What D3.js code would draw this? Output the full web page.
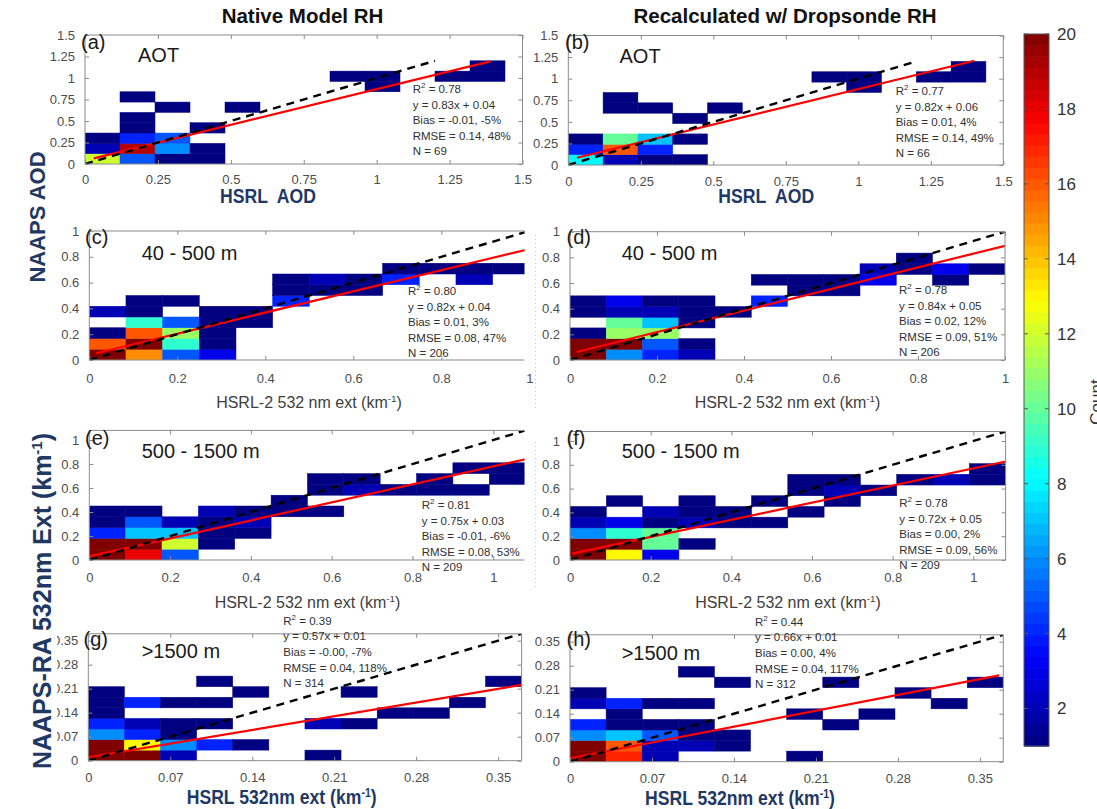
<!DOCTYPE html>
<html>
<head>
<meta charset="utf-8">
<script src="https://cdn.jsdelivr.net/npm/d3@7"></script>
<style>
  html, body { margin: 0; padding: 0; background: #fff; }
  svg { display: block; font-family: "Liberation Sans", Arial, Helvetica, sans-serif; }
</style>
</head>
<body>
<svg id="fig" width="1097" height="809"></svg>
<script>
// ---------------- data ----------------
// 2-D histogram cells: [x-bin index, y-bin index, count]
const cellsA = [[0,0,12],[1,0,5],[2,0,1],[3,0,1],[0,1,2],[1,1,19],[2,1,6],[3,1,1],[0,2,1],[1,2,4],[2,2,5],
  [1,3,1],[3,3,1],[1,4,1],[2,5,1],[4,5,1],[1,6,1],[8,7,1],[7,8,1],[8,8,1],[10,8,1],[11,8,1],[11,9,1]];
const cellsB = [[0,0,8],[1,0,2],[2,0,1],[3,0,1],[0,1,4],[1,1,16],[2,1,4],[0,2,1],[1,2,10],[2,2,7],[3,2,1],
  [3,4,1],[1,5,1],[2,5,1],[4,5,1],[1,6,1],[8,7,1],[7,8,1],[8,8,1],[10,8,1],[11,8,1],[11,9,1]];
const cellsC = [[0,0,44],[0,1,16],[0,2,1],[0,4,2],[1,0,15],[1,1,40],[1,2,16],[1,3,9],[1,4,1],[1,5,1],
  [2,0,5],[2,1,9],[2,2,11],[2,3,5],[2,5,1],[3,0,3],[3,1,1],[3,2,1],[3,3,1],[3,4,1],[4,3,1],[4,4,1],
  [5,5,4],[5,6,1],[5,7,1],[6,6,1],[6,7,2],[7,6,1],[7,7,1],[8,7,4],[8,8,1],[9,8,1],[10,7,2],[10,8,1],[11,8,1]];
const cellsD = [[0,0,45],[0,1,38],[0,2,1],[0,4,1],[0,5,1],[1,0,6],[1,1,30],[1,2,11],[1,3,10],[1,4,2],[1,5,3],
  [2,0,4],[2,1,5],[2,2,11],[2,3,7],[2,4,2],[2,5,1],[3,0,2],[3,1,1],[3,3,1],[3,4,1],[3,5,1],[4,4,1],
  [5,5,4],[5,7,1],[6,6,1],[6,7,1],[7,6,1],[7,7,1],[8,7,3],[8,8,2],[9,8,1],[9,9,1],[10,7,1],[10,8,3],[11,8,1]];
const cellsE = [[0,0,50],[0,1,42],[0,2,4],[0,3,1],[0,4,1],[1,0,18],[1,1,30],[1,2,7],[1,3,5],[1,4,1],
  [2,0,5],[2,1,12],[2,2,7],[2,3,2],[3,1,1],[3,2,1],[3,3,1],[3,4,2],[4,2,1],[4,3,2],[4,4,1],[5,4,1],[5,5,1],
  [6,4,1],[6,6,1],[6,7,1],[7,6,2],[7,7,1],[8,6,1],[9,6,1],[9,7,1],[10,6,1],[10,8,1],[11,7,1],[11,8,1]];
const cellsF = [[0,0,52],[0,1,40],[0,2,6],[0,3,2],[0,4,1],[1,0,13],[1,1,34],[1,2,9],[1,3,3],[1,5,1],
  [2,0,3],[2,1,10],[2,2,10],[2,3,1],[2,4,2],[3,1,1],[3,3,2],[3,4,1],[3,5,1],[4,3,1],[4,4,1],[5,3,1],[5,5,1],
  [6,4,1],[6,6,1],[6,7,1],[7,5,1],[7,6,2],[7,7,1],[8,6,1],[9,7,1],[10,7,2],[11,7,1],[11,8,1]];
const cellsG = [[0,0,120],[0,1,64],[0,2,6],[0,3,4],[0,4,1],[0,5,1],[0,6,1],[1,0,65],[1,1,13],[1,2,4],[1,3,2],[1,5,4],
  [2,0,2],[2,1,6],[2,2,1],[2,3,1],[2,5,1],[3,1,4],[3,3,1],[3,5,1],[3,7,1],[4,1,1],[4,6,1],
  [6,0,1],[6,3,2],[7,3,1],[7,6,1],[8,4,1],[9,4,1],[10,5,1],[11,7,1]];
const cellsH = [[0,0,140],[0,1,85],[0,2,6],[0,3,4],[0,5,2],[0,6,1],[1,0,17],[1,1,16],[1,2,7],[1,3,1],[1,4,1],[1,5,4],
  [2,0,2],[2,1,2],[2,2,5],[2,3,1],[2,5,1],[3,1,2],[3,2,1],[3,3,1],[3,5,1],[3,8,1],[4,1,1],[4,2,1],[4,7,1],
  [6,0,1],[6,4,1],[7,3,1],[7,7,1],[8,4,1],[9,6,1],[10,5,1],[11,7,1]];
const panelCells = [cellsA, cellsB, cellsC, cellsD, cellsE, cellsF, cellsG, cellsH];

// bin width and axis upper limit of each panel (same for x and y)
const binWidth = [0.12, 0.12, 1/12, 1/12, 0.09, 0.09, 0.37/12, 0.37/12];
const axisMax  = [1.5, 1.5, 1, 1, 1.08, 1.08, 0.37, 0.37];

// least-squares fits and 1:1 reference
const fitSlope     = [0.83, 0.82, 0.82, 0.84, 0.75, 0.72, 0.57, 0.66];
const fitIntercept = [0.04, 0.06, 0.04, 0.05, 0.03, 0.05, 0.01, 0.01];
const fitXStart    = [0.03, 0.03, 0.015, 0.015, 0, 0.005, 0, 0];
const fitXEnd      = [1.39, 1.40, 1, 1, 1.08, 1.08, 0.37, 0.3665];
const oneToOneEnd  = [1.2, 1.2, 1, 1, 1.08, 1.08, 0.37, 0.37];

// statistics
const r2Values   = ["0.78", "0.77", "0.80", "0.78", "0.81", "0.78", "0.39", "0.44"];
const biasText   = ["-0.01, -5%", "0.01, 4%", "0.01, 3%", "0.02, 12%", "-0.01, -6%", "0.00, 2%", "-0.00, -7%", "0.00, 4%"];
const rmseText   = ["0.14, 48%", "0.14, 49%", "0.08, 47%", "0.09, 51%", "0.08, 53%", "0.09, 56%", "0.04, 118%", "0.04, 117%"];
const sampleSize = [69, 66, 206, 206, 209, 209, 314, 312];

// labels and ticks
const panelTags  = ["(a)", "(b)", "(c)", "(d)", "(e)", "(f)", "(g)", "(h)"];
const layerNames = ["AOT", "AOT", "40 - 500 m", "40 - 500 m", "500 - 1500 m", "500 - 1500 m", ">1500 m", ">1500 m"];
const aodTicks   = [0, 0.25, 0.5, 0.75, 1, 1.25, 1.5];
const extTicks   = [0, 0.2, 0.4, 0.6, 0.8, 1];
const highTicks  = [0, 0.07, 0.14, 0.21, 0.28, 0.35];
const panelTicks = [aodTicks, aodTicks, extTicks, extTicks, extTicks, extTicks, highTicks, highTicks];
const countTicks = [2, 4, 6, 8, 10, 12, 14, 16, 18, 20];
const countRange = [1, 20];
const columnTitles = ["Native Model RH", "Recalculated w/ Dropsonde RH"];

// ---------------- layout ----------------
const frames = [
  {x0: 85,   x1: 522.5,  y0: 164,   y1: 35,    pad: 10.5, tag: [81, 48.5],    layer: [138, 61.5],  stats: [412.7, 93]},
  {x0: 568.3,x1: 1003.3, y0: 165,   y1: 35.5,  pad: 11.5, tag: [565, 48.5],   layer: [619.5, 62.5],stats: [895.7, 95]},
  {x0: 89.3, x1: 529.3,  y0: 360,   y1: 231,   pad: 13.5, tag: [85, 244],     layer: [141.7, 260], stats: [408, 295],   clipX: 524.5},
  {x0: 570,  x1: 1005,   y0: 360,   y1: 231.7, pad: 13.5, tag: [566.5, 244],  layer: [621.7, 260], stats: [899, 294]},
  {x0: 89.3, x1: 525.6,  y0: 560,   y1: 430.4, pad: 12.5, tag: [85, 445],     layer: [141.7, 458], stats: [421.7, 509], clipX: 524.5},
  {x0: 570,  x1: 1005.6, y0: 560,   y1: 431.5, pad: 12.5, tag: [566.5, 445],  layer: [621.7, 458], stats: [899.3, 507]},
  {x0: 88.3, x1: 521.6,  y0: 760.7, y1: 633.8, pad: 12,   tag: [83.5, 646],   layer: [141.7, 658], stats: [283.3, 624.7]},
  {x0: 570,  x1: 1003.3, y0: 761.7, y1: 634.8, pad: 12,   tag: [566.5, 646],  layer: [621.7, 660], stats: [755, 625.7]}
];

const svg = d3.select("#fig");
const defs = svg.append("defs");

// MATLAB-style jet colormap
function jet(t) {
  const c = v => Math.max(0, Math.min(1, v));
  return d3.rgb(255 * c(1.5 - Math.abs(4 * t - 3)),
                255 * c(1.5 - Math.abs(4 * t - 2)),
                255 * c(1.5 - Math.abs(4 * t - 1))).formatHex();
}
const color = d3.scaleSequential(jet).domain(countRange).clamp(true);

const AXIS_GREY = "#8a8a8a";
const TICK_TEXT = "#4d4d4d";

function kmLabel(sel) {
  sel.append("tspan").text(sel.attr("data-base"));
  sel.append("tspan").attr("dy", -6).attr("font-size", "0.62em").text("-1");
  sel.append("tspan").attr("dy", 6).text(")");
}

frames.forEach((f, p) => {
  const x = d3.scaleLinear().domain([0, axisMax[p]]).range([f.x0, f.x1]);
  const y = d3.scaleLinear().domain([0, axisMax[p]]).range([f.y0, f.y1]);
  const bw = binWidth[p];
  const g = svg.append("g").attr("class", "panel-" + p);

  const clipRight = f.clipX || f.x1;
  defs.append("clipPath").attr("id", "clip" + p)
    .append("rect").attr("x", f.x0).attr("y", f.y1)
    .attr("width", clipRight - f.x0).attr("height", f.y0 - f.y1);

  const plot = g.append("g").attr("clip-path", `url(#clip${p})`);

  // histogram cells
  plot.selectAll("rect.cell").data(panelCells[p]).join("rect")
    .attr("class", "cell")
    .attr("x", d => x(d[0] * bw))
    .attr("y", d => y((d[1] + 1) * bw))
    .attr("width", d => x((d[0] + 1) * bw) - x(d[0] * bw))
    .attr("height", d => y(d[1] * bw) - y((d[1] + 1) * bw))
    .attr("fill", d => color(d[2]))
    .attr("stroke", d => color(d[2]))
    .attr("stroke-width", 0.5);

  // regression line
  const fx = [fitXStart[p], fitXEnd[p]];
  plot.append("line")
    .attr("x1", x(fx[0])).attr("y1", y(fitSlope[p] * fx[0] + fitIntercept[p]))
    .attr("x2", x(fx[1])).attr("y2", y(fitSlope[p] * fx[1] + fitIntercept[p]))
    .attr("stroke", "#ff0000").attr("stroke-width", 2.2);

  // 1:1 line
  plot.append("line")
    .attr("x1", x(0)).attr("y1", y(0))
    .attr("x2", x(oneToOneEnd[p])).attr("y2", y(oneToOneEnd[p]))
    .attr("stroke", "#000").attr("stroke-width", 2.4)
    .attr("stroke-dasharray", "8,6");

  // axes (ticks pointing inward on all four sides)
  const ticks = panelTicks[p];
  const fmt = d => String(d);
  const axG = g.append("g").attr("class", "axes");
  const bottom = axG.append("g").attr("transform", `translate(0,${f.y0})`)
    .call(d3.axisBottom(x).tickValues(ticks).tickFormat(fmt).tickSize(-4).tickPadding(f.pad));
  const left = axG.append("g").attr("transform", `translate(${f.x0},0)`)
    .call(d3.axisLeft(y).tickValues(ticks).tickFormat(fmt).tickSize(-4).tickPadding(10));
  const top = axG.append("g").attr("transform", `translate(0,${f.y1})`)
    .call(d3.axisTop(x).tickValues(ticks.filter(t => x(t) <= clipRight)).tickFormat("").tickSize(-4));
  const right = axG.append("g").attr("transform", `translate(${f.x1},0)`)
    .call(d3.axisRight(y).tickValues(ticks).tickFormat("").tickSize(-4));
  if (f.clipX) right.remove();
  [bottom, left, top, right].forEach(a => {
    a.select(".domain").remove();
    a.selectAll(".tick line").attr("stroke", AXIS_GREY);
    a.selectAll(".tick text").attr("fill", TICK_TEXT).attr("font-size", 13)
      .attr("font-family", "Liberation Sans, Arial, sans-serif");
  });
  // no inward tick beyond the right cut
  bottom.selectAll(".tick").filter(d => x(d) > clipRight).select("line").remove();

  // axes box
  const box = axG.append("path")
    .attr("fill", "none").attr("stroke", AXIS_GREY).attr("stroke-width", 1);
  if (f.clipX) {
    box.attr("d", `M${clipRight},${f.y1}H${f.x0}V${f.y0}H${clipRight}`);
  } else {
    box.attr("d", `M${f.x0},${f.y1}H${f.x1}V${f.y0}H${f.x0}Z`);
  }

  // panel tag and layer name
  g.append("text").attr("x", f.tag[0]).attr("y", f.tag[1])
    .attr("font-size", 20).attr("fill", "#1a1a1a").text(panelTags[p]);
  g.append("text").attr("x", f.layer[0]).attr("y", f.layer[1])
    .attr("font-size", 20).attr("fill", "#1a1a1a").text(layerNames[p]);

  // statistics block
  const st = g.append("g").attr("font-size", 11.5).attr("fill", "#303030");
  const lh = 15.6;
  const r2 = st.append("text").attr("x", f.stats[0]).attr("y", f.stats[1]);
  r2.append("tspan").text("R");
  r2.append("tspan").attr("dy", -5).attr("font-size", 8).text("2");
  r2.append("tspan").attr("dy", 5).text(" = " + r2Values[p]);
  st.append("text").attr("x", f.stats[0]).attr("y", f.stats[1] + lh)
    .text(`y = ${fitSlope[p].toFixed(2)}x + ${fitIntercept[p].toFixed(2)}`);
  st.append("text").attr("x", f.stats[0]).attr("y", f.stats[1] + 2 * lh).text("Bias = " + biasText[p]);
  st.append("text").attr("x", f.stats[0]).attr("y", f.stats[1] + 3 * lh).text("RMSE = " + rmseText[p]);
  st.append("text").attr("x", f.stats[0]).attr("y", f.stats[1] + 4 * lh).text("N = " + sampleSize[p]);
});

// grey x-axis titles under the extinction panels
[[309, 407.5], [787.5, 407.5], [307.5, 607.5], [788, 607.5]].forEach(([cx, by]) => {
  svg.append("text").attr("x", cx).attr("y", by).attr("text-anchor", "middle")
    .attr("font-size", 16).attr("fill", "#404040")
    .attr("data-base", "HSRL-2 532 nm ext (km").call(kmLabel);
});

// faint seams between the two columns
[[235, 408], [442, 588]].forEach(([a, b]) => {
  svg.append("line").attr("x1", 535.5).attr("x2", 535.5).attr("y1", a).attr("y2", b)
    .attr("stroke", "#c8c8c8").attr("stroke-width", 1).attr("stroke-dasharray", "1,3");
});

// navy bold axis titles
const NAVY = "#1f3864";
[[220, 202.5], [718.3, 202.5]].forEach(([sx, by]) => {
  svg.append("text").attr("transform", `translate(${sx},${by}) scale(0.84,1)`)
    .attr("font-size", 21).attr("font-weight", "bold").attr("fill", NAVY)
    .style("white-space", "pre").text("HSRL  AOD");
});
[[186.7, 804], [645, 805]].forEach(([sx, by]) => {
  const t = svg.append("text").attr("transform", `translate(${sx},${by}) scale(0.88,1)`)
    .attr("font-size", 20).attr("font-weight", "bold").attr("fill", NAVY);
  t.append("tspan").text("HSRL 532nm ext (km");
  t.append("tspan").attr("dy", -7).attr("font-size", 12).text("-1");
  t.append("tspan").attr("dy", 7).text(")");
});

// cover the clipped leading digits of the lowest-row y labels
svg.append("rect").attr("x", 0).attr("y", 630).attr("width", 57).attr("height", 140).attr("fill", "#fff");

svg.append("text").attr("transform", "translate(45,217) rotate(-90)")
  .attr("text-anchor", "middle").attr("font-size", 22).attr("font-weight", "bold")
  .attr("fill", NAVY).text("NAAPS AOD");
{
  const t = svg.append("text").attr("transform", "translate(51,601) rotate(-90)")
    .attr("text-anchor", "middle").attr("font-size", 25).attr("font-weight", "bold").attr("fill", NAVY);
  t.append("tspan").text("NAAPS-RA 532nm Ext (km");
  t.append("tspan").attr("dy", -9).attr("font-size", 15).text("-1");
  t.append("tspan").attr("dy", 9).text(")");
}

// column titles
[[302.5, 23], [785, 23]].forEach(([cx, by], i) => {
  svg.append("text").attr("x", cx).attr("y", by).attr("text-anchor", "middle")
    .attr("font-size", 20.5).attr("font-weight", "bold").attr("fill", "#111")
    .text(columnTitles[i]);
});

// ---------------- colorbar ----------------
const cb = {x: 1024, w: 25};
const cy = d3.scaleLinear().domain(countRange).range([746, 34]);
const levels = d3.range(64);
const span = countRange[1] - countRange[0];
const cbg = svg.append("g");
cbg.selectAll("rect.lvl").data(levels).join("rect")
  .attr("class", "lvl")
  .attr("x", cb.x).attr("width", cb.w)
  .attr("y", k => cy(countRange[0] + span * (k + 1) / 64))
  .attr("height", k => cy(countRange[0] + span * k / 64) - cy(countRange[0] + span * (k + 1) / 64) + 0.6)
  .attr("fill", k => color(countRange[0] + span * (k + 0.5) / 64));
cbg.append("rect").attr("x", cb.x).attr("y", cy(countRange[1])).attr("width", cb.w)
  .attr("height", cy(countRange[0]) - cy(countRange[1]))
  .attr("fill", "none").attr("stroke", "#555").attr("stroke-width", 1);
countTicks.forEach(v => {
  cbg.append("line").attr("x1", cb.x).attr("x2", cb.x + 4).attr("y1", cy(v)).attr("y2", cy(v))
    .attr("stroke", "#555");
  cbg.append("line").attr("x1", cb.x + cb.w - 4).attr("x2", cb.x + cb.w).attr("y1", cy(v)).attr("y2", cy(v))
    .attr("stroke", "#555");
  cbg.append("text").attr("x", 1057).attr("y", cy(v)).attr("dy", "0.35em")
    .attr("font-size", 17).attr("fill", "#333").text(v);
});
svg.append("text").attr("transform", "translate(1102,402) rotate(-90)")
  .attr("text-anchor", "middle").attr("font-size", 17).attr("fill", "#333").text("Count");
</script>
</body>
</html>
